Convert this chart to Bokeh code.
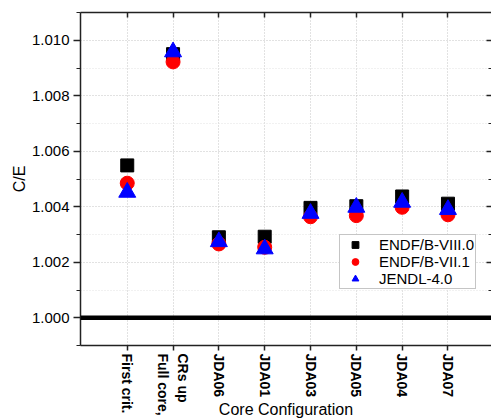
from bokeh.plotting import figure
from bokeh.models import FixedTicker, Span, LinearAxis, Range1d
from bokeh.embed import file_html
from bokeh.resources import INLINE

configs = ["First crit.", "CRs up\nFull core,", "JDA06", "JDA01", "JDA03", "JDA05", "JDA04", "JDA07"]
endf80 = [1.00549, 1.00950, 1.00290, 1.00292, 1.00396, 1.00402, 1.00437, 1.00411]
endf71 = [1.00485, 1.00922, 1.00266, 1.00254, 1.00364, 1.00368, 1.00398, 1.00371]
jendl40 = [1.00452, 1.00958, 1.00274, 1.00248, 1.00376, 1.00398, 1.00416, 1.00390]
y_ticks = [1.000, 1.002, 1.004, 1.006, 1.008, 1.010]
y_tick_labels = ["1.000", "1.002", "1.004", "1.006", "1.008", "1.010"]
y_minor = [0.999, 1.001, 1.003, 1.005, 1.007, 1.009, 1.011]

xs = list(range(1, len(configs) + 1))

p = figure(width=491, height=420, output_backend="svg", toolbar_location=None,
           x_range=Range1d(-0.02, 8.95), y_range=Range1d(0.999, 1.011),
           min_border_left=80, min_border_right=0, min_border_top=12, min_border_bottom=75)
p.outline_line_color = None
p.background_fill_color = "white"
p.border_fill_color = "white"

FONT = "Liberation Sans"

xt = FixedTicker(ticks=xs, minor_ticks=[])
yt = FixedTicker(ticks=y_ticks, minor_ticks=y_minor)
p.xaxis.ticker = xt
p.yaxis.ticker = yt
p.xgrid.ticker = xt
p.ygrid.ticker = yt

p.xaxis.major_label_overrides = {x: c for x, c in zip(xs, configs)}
p.yaxis.major_label_overrides = {t: l for t, l in zip(y_ticks, y_tick_labels)}

for ax in (p.xaxis[0], p.yaxis[0]):
    ax.axis_line_width = 1.5
    ax.axis_line_color = "#222222"
    ax.major_tick_line_color = "#222222"
    ax.minor_tick_line_color = "#222222"
    ax.major_tick_line_width = 1.5
    ax.minor_tick_line_width = 1.2
    ax.major_tick_in = 0
    ax.minor_tick_in = 0
    ax.major_label_text_font = FONT
    ax.major_label_text_color = "black"
    ax.axis_label_text_font = FONT
    ax.axis_label_text_font_style = "normal"
    ax.axis_label_text_font_size = "16px"
    ax.axis_label_text_color = "black"

p.yaxis.axis_label = "C/E"
p.yaxis.major_tick_out = 7
p.yaxis.minor_tick_out = 4
p.yaxis.major_label_standoff = 4
p.yaxis.major_label_text_font_size = "15px"
p.yaxis.axis_label_standoff = 1

p.xaxis.axis_label = "Core Configuration"
p.xaxis.major_tick_out = 5
p.xaxis.minor_tick_out = 0
p.xaxis.major_label_standoff = 3
p.xaxis.major_label_orientation = "vertical"
p.xaxis.major_label_text_font_size = "14px"
p.xaxis.major_label_text_font_style = "bold"
p.xaxis.axis_label_standoff = -18

# top axis (ticks inward only)
top = LinearAxis(ticker=xt, major_label_overrides={x: "" for x in xs},
                 major_tick_in=5, major_tick_out=0, minor_tick_in=0, minor_tick_out=0,
                 major_label_standoff=0, major_label_text_font_size="0px",
                 axis_line_width=1.5, axis_line_color="#222222",
                 major_tick_line_width=1.5, major_tick_line_color="#222222")
p.add_layout(top, "above")

# right axis (ticks inward only; its line lies at the picture's edge)
right = LinearAxis(ticker=yt, major_label_overrides={t: "" for t in y_ticks},
                   major_tick_in=5, major_tick_out=0, minor_tick_in=3, minor_tick_out=0,
                   major_label_standoff=0, major_label_text_font_size="0px",
                   axis_line_color=None, major_tick_line_width=1.5,
                   major_tick_line_color="#222222", minor_tick_line_color="#222222")
p.add_layout(right, "right")

p.xgrid.grid_line_color = "#c4c4c4"
p.xgrid.grid_line_dash = "1 2"
p.ygrid.grid_line_color = "#c4c4c4"
p.ygrid.grid_line_dash = "1 2"
p.ygrid.minor_grid_line_color = "#e2e2e2"
p.ygrid.minor_grid_line_dash = "1 2"

p.add_layout(Span(location=1.0, dimension="width", line_color="black", line_width=4.5))

p.scatter(xs, endf80, marker="square", size=13, color="black", legend_label="ENDF/B-VIII.0")
p.scatter(xs, endf71, marker="circle", size=14, color="red", legend_label="ENDF/B-VII.1")
p.scatter(xs, jendl40, marker="triangle", size=17, color="blue", legend_label="JENDL-4.0")

lg = p.legend[0]
lg.location = (259, 56)
lg.label_text_font = FONT
lg.label_text_font_size = "15px"
lg.label_text_line_height = 1.0
lg.label_text_color = "black"
lg.padding = 1
lg.margin = 0
lg.spacing = 0
lg.glyph_width = 28
lg.glyph_height = 17
lg.label_height = 17
lg.label_standoff = 10
lg.border_line_color = "#8c8c8c"
lg.border_line_width = 1
lg.background_fill_alpha = 1.0

open("out.html", "w").write(file_html(p, INLINE))
